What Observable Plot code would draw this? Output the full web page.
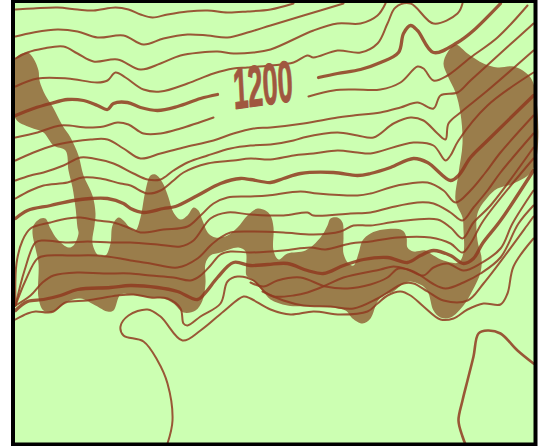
<!DOCTYPE html>
<html><head><meta charset="utf-8">
<script src="https://cdn.jsdelivr.net/npm/d3@7"></script>
<script src="https://cdn.jsdelivr.net/npm/@observablehq/plot@0.6"></script>
<style>html,body{margin:0;padding:0;background:#fff}svg{display:block}</style>
</head><body><div id="c"></div>
<script>
const c1=[[15,9],[33,8],[57,7],[77,9],[93,10],[115,7],[128,9],[140,14],[152,17],[167,14],[187,11],[207,10],[227,12],[247,11],[270,9],[293,3]];
const c2=[[15,36],[33,32],[57,29],[77,31],[97,37],[123,35],[143,44],[163,38],[187,34],[207,35],[227,37],[247,32],[270,25],[303,15],[343,3]];
const c3=[[15,58],[27,52],[43,48],[63,46],[77,53],[93,61],[117,59],[140,69],[160,63],[180,55],[200,52],[217,51],[233,53],[253,52],[270,49],[313,30],[337,23],[360,23],[377,15],[385,3]];
const c4=[[15,86],[37,78],[67,78],[97,82],[107,80],[115,72],[125,77],[143,89],[160,91],[187,83],[213,73],[233,68],[247,67],[270,65],[293,62],[307,55],[313,57],[337,50],[360,52],[377,43],[387,23],[395,7],[410,3],[433,23],[457,13],[462,3]];
const c5a=[[15,115],[33,108],[50,103],[67,99],[83,100],[97,105],[107,109],[113,103],[127,102],[140,107],[157,110],[177,106],[200,98],[217,94]];
const c5b=[[318,77],[337,73],[360,69],[380,62],[398,52],[403,33],[410,25],[417,30],[433,52],[457,42],[473,30],[500,3]];
const c6a=[[15,137],[37,132],[60,125],[87,127],[103,126],[117,122],[128,124],[143,133],[160,133],[180,128],[213,117]];
const c6b=[[308,96],[333,90],[353,89],[380,89],[400,82],[417,66],[423,68],[433,80],[447,75],[470,57],[497,37],[527,5]];
const c7=[[15,160],[33,152],[53,145],[73,141],[90,139],[107,139],[123,148],[140,158],[160,153],[183,147],[213,140],[233,133],[253,128],[270,127],[303,123],[337,117],[353,115],[380,112],[400,107],[417,102],[433,108],[440,95],[457,92],[470,80],[503,50],[533,23]];
const c8=[[15,180],[30,175],[43,172],[63,165],[80,157],[93,158],[113,163],[133,173],[147,179],[160,179],[173,170],[187,162],[207,155],[230,148],[250,145],[270,144],[293,140],[303,137],[337,132],[357,135],[373,137],[393,123],[410,117],[423,120],[437,133],[445,139],[448,123],[460,112],[487,90],[533,50]];
const c9=[[15,198],[30,190],[43,185],[67,182],[82,177],[100,178],[120,183],[130,185],[147,193],[160,190],[173,180],[183,172],[207,163],[233,160],[250,158],[270,159],[293,155],[313,153],[337,150],[357,152],[370,153],[413,142],[433,145],[445,160],[450,155],[458,140],[487,105],[533,72]];
const c10=[[15,218],[27,210],[50,205],[73,200],[90,198],[107,198],[123,203],[130,208],[143,212],[163,208],[175,206],[197,195],[220,183],[240,178],[250,179],[270,182],[283,178],[300,173],[333,172],[357,175],[370,173],[390,167],[413,158],[427,162],[450,180],[458,175],[470,157],[487,140],[533,95]];
const c11=[[15,305],[16,263],[22,240],[30,228],[50,222],[67,218],[80,217],[97,220],[113,222],[130,228],[140,232],[163,229],[187,226],[200,215],[213,203],[227,197],[250,196],[267,195],[300,191],[317,193],[357,195],[370,193],[397,185],[427,182],[443,190],[455,202],[470,190],[485,172],[500,152],[533,115]];
const c12=[[15,305],[24,270],[35,242],[43,240],[67,242],[87,241],[110,242],[130,242],[157,244],[180,246],[193,240],[210,218],[227,212],[250,214],[283,215],[307,212],[313,215],[350,213],[370,212],[390,207],[417,202],[433,203],[450,212],[462,220],[473,207],[487,190],[500,172],[533,133]];
const c13=[[15,305],[25,280],[37,258],[47,255],[70,255],[97,255],[120,258],[130,260],[150,263],[177,267],[197,258],[210,245],[220,237],[230,232],[250,231],[283,232],[313,234],[340,231],[353,225],[370,225],[397,221],[437,219],[450,227],[462,238],[473,222],[490,205],[533,147]];
const c14=[[15,305],[30,295],[42,282],[53,275],[77,272],[103,273],[130,273],[150,275],[173,277],[190,280],[200,275],[210,265],[220,254],[230,251],[250,252],[283,250],[310,247],[325,249],[350,243],[370,241],[397,237],[430,237],[450,243],[462,252],[470,243],[483,220],[533,158]];
const c15=[[15,310],[27,301],[43,299],[60,295],[77,289],[110,287],[130,285],[157,287],[177,291],[197,299],[205,292],[217,277],[233,262],[250,265],[267,264],[287,263],[307,270],[323,273],[343,265],[363,259],[387,257],[407,262],[420,255],[433,250],[450,255],[463,263],[473,258],[482,243],[500,220],[533,170]];
const c16=[[15,319],[27,313],[35,311],[47,312],[53,311],[65,302],[87,300],[117,295],[133,294],[150,297],[167,298],[180,308],[183,323],[187,325],[200,316],[220,303],[227,281],[237,276],[253,280],[265,292],[273,296],[293,295],[307,292],[325,285],[343,277],[380,269],[393,266],[407,269],[423,275],[433,267],[447,263],[463,270],[480,263],[500,248],[512,223],[533,190]];
const c17=[[250,282],[263,286],[277,280],[300,277],[325,286],[347,288],[370,284],[387,277],[398,268],[413,271],[423,277],[432,283],[445,288],[463,282],[480,273],[500,257],[518,223],[533,205]];
const c18=[[262,291],[283,300],[303,305],[330,306],[353,308],[377,298],[403,283],[413,283],[427,291],[443,300],[467,300],[483,283],[528,223],[533,216]];
const c19=[[167,443],[172,420],[167,383],[157,360],[143,341],[123,335],[120,326],[128,315],[147,309],[160,316],[182,340],[200,330],[223,311],[243,296],[250,298],[270,309],[290,314],[313,311],[340,314],[367,311],[377,303],[387,295],[400,291],[410,295],[423,306],[440,319],[453,318],[467,309],[483,303],[500,304],[507,293],[513,266],[533,238]];
const c20=[[533,363],[517,350],[500,333],[487,330],[478,333],[473,356],[467,380],[462,400],[458,420],[462,436],[465,444]];
const rock=[[15,58],[27,52],[33,58],[38,70],[39,80],[45,95],[52,106],[62,125],[70,137],[78,155],[83,175],[92,195],[95,213],[94,225],[92,243],[98,255],[105,255],[110,243],[112,225],[118,217],[123,220],[130,228],[135,230],[140,217],[145,190],[150,175],[155,174],[162,182],[168,197],[173,212],[180,219],[187,215],[193,207],[198,210],[202,220],[208,233],[215,237],[227,235],[237,227],[247,215],[257,208],[265,210],[270,215],[273,227],[273,250],[278,259],[287,253],[305,250],[320,237],[327,225],[330,218],[337,217],[342,222],[343,237],[343,253],[348,263],[353,265],[358,253],[362,240],[370,233],[383,229],[402,230],[406,237],[407,247],[413,251],[425,250],[433,255],[443,260],[458,262],[463,252],[463,230],[462,217],[455,200],[458,173],[462,143],[460,113],[455,92],[447,75],[443,63],[447,52],[455,44],[467,53],[483,63],[497,67],[513,66],[525,72],[533,83],[533,168],[513,183],[497,188],[487,197],[477,213],[477,240],[481,257],[480,272],[472,290],[463,305],[450,317],[440,317],[433,310],[428,293],[423,286],[410,281],[403,283],[393,291],[383,295],[377,301],[370,318],[362,323],[352,318],[345,310],[320,306],[287,305],[270,299],[262,290],[250,278],[246,275],[245,251],[238,247],[220,252],[210,255],[205,263],[205,283],[202,300],[195,310],[183,312],[173,303],[163,298],[150,297],[130,294],[120,294],[113,310],[107,311],[95,305],[80,298],[67,301],[53,311],[43,310],[38,297],[38,263],[35,248],[32,233],[33,225],[40,218],[45,218],[50,228],[57,239],[68,247],[73,245],[78,233],[77,227],[75,207],[72,187],[68,170],[65,150],[53,145],[43,132],[30,127],[15,118]];
const thin=[c1,c2,c3,c4,c6a,c6b,c7,c8,c9,c11,c12,c13,c14,c16,c17,c18,c19];
const thick=[c5a,c5b,c10,c15];
const mapBox=[{x1:13,x2:535.5,y1:1,y2:444.5}];
const label=[{x:262,y:86,t:"1200"}];
const lineColor="#8f3a20";
const marks=[
 Plot.rect(mapBox,{x1:"x1",x2:"x2",y1:"y1",y2:"y2",fill:"#ccffb2"}),
 Plot.line(rock,{curve:"catmull-rom-closed",fill:"#9a7d4b",stroke:"none"}),
 ...thin.map(d=>Plot.line(d,{curve:"catmull-rom",stroke:lineColor,strokeOpacity:.85,strokeWidth:2})),
 ...thick.map(d=>Plot.line(d,{curve:"catmull-rom",stroke:lineColor,strokeOpacity:.85,strokeWidth:3.3})),
 Plot.line(c20,{curve:"catmull-rom",stroke:lineColor,strokeOpacity:.85,strokeWidth:2.6}),
 Plot.text(label,{x:"x",y:"y",text:"t",rotate:-8,fontSize:58,fontStyle:"italic",fontWeight:"bold",fontFamily:"Liberation Sans",fill:"#a0573f",stroke:"#a0573f",strokeWidth:1}),
 Plot.rect(mapBox,{x1:"x1",x2:"x2",y1:"y1",y2:"y2",fill:"none",stroke:"#000",strokeWidth:4})
];
const svg=Plot.plot({width:540,height:446,margin:0,
 x:{domain:[0,540],axis:null},y:{domain:[446,0],axis:null},marks});
d3.select(svg).selectAll("text").filter(function(){return this.textContent==="1200"})
 .attr("textLength",60).attr("lengthAdjust","spacingAndGlyphs");
document.getElementById("c").appendChild(svg);
</script></body></html>
